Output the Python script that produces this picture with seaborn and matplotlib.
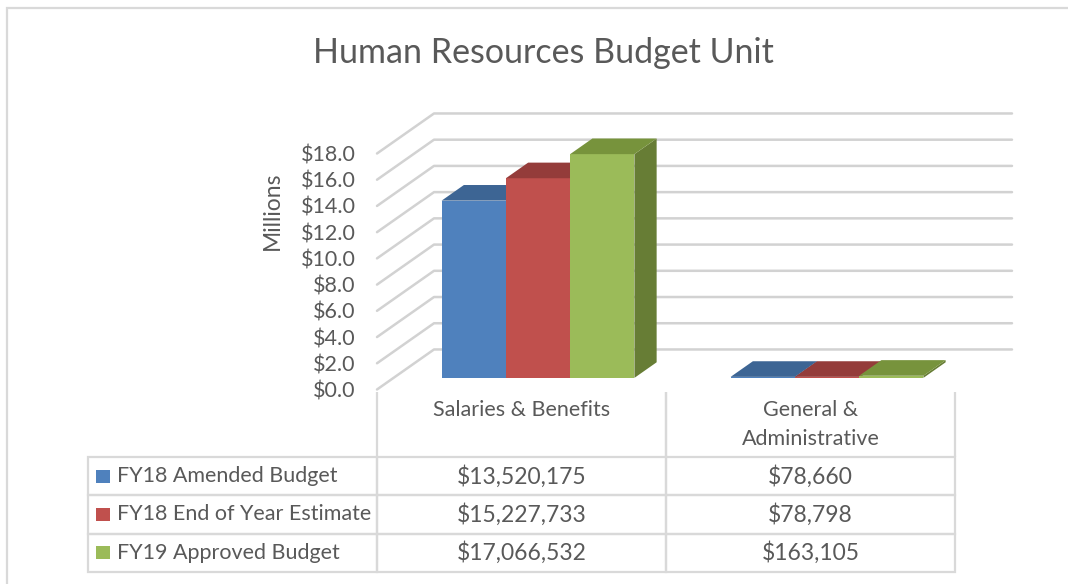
import matplotlib
matplotlib.use('Agg')
import matplotlib.pyplot as plt
from matplotlib.patches import Polygon, Rectangle
from matplotlib.transforms import Affine2D
from matplotlib.table import Table
from matplotlib.colors import to_hex
import seaborn as sns
import pandas as pd

categories = ['Salaries & Benefits', 'General &\nAdministrative']
series = ['FY18 Amended Budget', 'FY18 End of Year Estimate', 'FY19 Approved Budget']
amended = [13520175, 78660]
estimate = [15227733, 78798]
approved = [17066532, 163105]
yticks = [0, 2, 4, 6, 8, 10, 12, 14, 16, 18]

front_colors = ['#4F81BD', '#C0504D', '#9BBB59']
top_colors = ['#3D6594', '#943C3A', '#77933C']
side_colors = ['#35587F', '#7E3331', '#677D35']
text_color = '#595959'
grid_color = '#d2d2d2'

sns.set_style('white')
plt.rcParams['font.family'] = ['Lato', 'DejaVu Sans']

W, H = 1068, 584
# depth of the 3d box, in data units (category units, millions)
DX, DY = 57 / 289, 40 / 13.1
D0, D1 = 0.29, 0.68


def main():
    fig = plt.figure(figsize=(W / 100, H / 100), dpi=100)
    fig.patch.set_facecolor('white')
    fig.patches.append(Rectangle((7 / W, -0.1), 2, 1.1 - 8 / H, transform=fig.transFigure,
                                 fill=False, edgecolor='#d9d9d9', lw=1.6))

    ax = fig.add_axes([377 / W, 1 - 389.5 / H, (955 - 377) / W, (389.5 - 153.5) / H])
    barplot(ax)
    table(fig)

    fig.text(543 / W, 1 - 53 / H, 'Human Resources Budget Unit', fontsize=24.5,
             color=text_color, ha='center', va='center')
    fig.text(272 / W, 1 - 211 / H, 'Millions', rotation=90, fontsize=16.5,
             color=text_color, ha='center', va='center')

    fig.savefig('out.png', dpi=100)
    plt.close(fig)


def barplot(ax):
    rows = []
    for s, vals in zip(series, [amended, estimate, approved]):
        for c, v in zip(categories, vals):
            rows.append({'Category': c, 'Series': s, 'Millions': v / 1e6})
    df = pd.DataFrame(rows)

    sns.barplot(data=df, x='Category', y='Millions', hue='Series', order=categories,
                hue_order=series, palette=front_colors, saturation=1, width=0.667,
                linewidth=0, legend=False, ax=ax)

    shift = Affine2D().translate(D0 * DX, D0 * DY) + ax.transData
    for patch in list(ax.patches):
        i = [c.lower() for c in front_colors].index(to_hex(patch.get_facecolor()))
        x0, w, v = patch.get_x(), patch.get_width(), patch.get_height()
        x1 = x0 + w
        z = 3 + x0
        patch.set_transform(shift)
        patch.set_clip_on(False)
        patch.set_zorder(z + 0.01)
        top = [(x0 + D0 * DX, v + D0 * DY), (x1 + D0 * DX, v + D0 * DY),
               (x1 + D1 * DX, v + D1 * DY), (x0 + D1 * DX, v + D1 * DY)]
        side = [(x1 + D0 * DX, D0 * DY), (x1 + D1 * DX, D1 * DY),
                (x1 + D1 * DX, v + D1 * DY), (x1 + D0 * DX, v + D0 * DY)]
        ax.add_patch(Polygon(side, closed=True, facecolor=side_colors[i], lw=0,
                             zorder=z, clip_on=False))
        ax.add_patch(Polygon(top, closed=True, facecolor=top_colors[i], lw=0,
                             zorder=z + 0.01, clip_on=False))

    # side wall + back wall gridlines
    for v in yticks:
        ax.plot([-0.5, -0.5 + DX, 1.5 + DX], [v, v + DY, v + DY], color=grid_color,
                lw=1.8, clip_on=False, zorder=1, solid_capstyle='round')

    ax.set_xlim(-0.5, 1.5)
    ax.set_ylim(0, 18)
    ax.set_yticks(yticks)
    ax.set_yticklabels([f'${v:.1f}' for v in yticks])
    ax.set_xticks([])
    ax.set_xlabel('')
    ax.set_ylabel('')
    ax.tick_params(left=False, bottom=False, labelsize=15.5, labelcolor=text_color, pad=12)
    sns.despine(ax=ax, left=True, bottom=True)
    ax.patch.set_alpha(0)


def table(fig):
    top, bottom, left, right = 392, 572, 88, 955
    tax = fig.add_axes([left / W, 1 - bottom / H, (right - left) / W, (bottom - top) / H])
    tax.axis('off')
    head_h, row_h = 65, (bottom - top - 65) / 3

    tb = Table(tax, bbox=[0, 0, 1, 1])
    header = ['', 'Salaries & Benefits\n', categories[1]]
    for c, txt in enumerate(header):
        cell = tb.add_cell(0, c, 1 / 3, head_h, text=txt, loc='center',
                           edgecolor='#d9d9d9', facecolor='none')
        cell.visible_edges = '' if c == 0 else 'LR'
        cell.get_text().set_linespacing(1.55)
    for r, (s, vals) in enumerate(zip(series, [amended, estimate, approved]), start=1):
        texts = [s] + [f'${v:,}' for v in vals]
        for c, txt in enumerate(texts):
            tb.add_cell(r, c, 1 / 3, row_h, text=txt, loc='left' if c == 0 else 'center',
                        edgecolor='#d9d9d9', facecolor='none')
    tb.auto_set_font_size(False)
    tb.set_fontsize(15.5)
    for (r, c), cell in tb.get_celld().items():
        cell.set_linewidth(1.6)
        cell.get_text().set_color(text_color)
        if r > 0 and c > 0:
            cell.get_text().set_fontsize(16.5)
    tax.add_table(tb)

    # legend keys
    span_w, span_h = right - left, bottom - top
    for r, color in enumerate(front_colors):
        yc = head_h + row_h * (r + 0.5)
        tax.add_patch(Rectangle((8 / span_w, 1 - (yc + 6.5) / span_h), 14 / span_w, 13 / span_h,
                                transform=tax.transAxes, facecolor=color, lw=0))


if __name__ == '__main__':
    main()
